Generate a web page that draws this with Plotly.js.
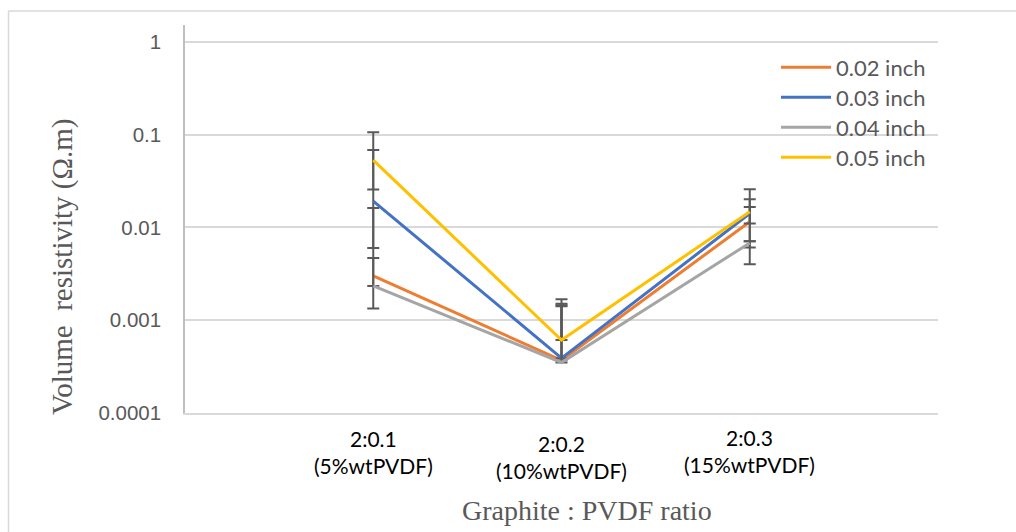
<!DOCTYPE html>
<html><head><meta charset="utf-8">
<script src="https://cdn.plot.ly/plotly-3.0.1.min.js"></script>
<style>html,body{margin:0;padding:0;background:#fff}#chart{width:1016px;height:532px}</style>
</head><body><div id="chart"></div>
<script>
// ---- data ----
const categories = ["2:0.1", "2:0.2", "2:0.3"];
const categorySub = ["(5%wtPVDF)", "(10%wtPVDF)", "(15%wtPVDF)"];
const seriesNames = ["0.02 inch", "0.03 inch", "0.04 inch", "0.05 inch"];
const r002 = [0.0030, 0.00037, 0.0115];
const r003 = [0.0192, 0.00039, 0.0141];
const r004 = [0.00234, 0.00035, 0.0068];
const r005 = [0.053, 0.00061, 0.0147];
// error bar ends (upper / lower), absolute values
const hi002 = [0.0162, 0.00141, 0.0166];
const lo002 = [0.00234, 0.00037, 0.00607];
const hi003 = [0.068, 0.0015, 0.0201];
const lo003 = [0.0060, 0.00039, 0.0071];
const hi004 = [0.00469, 0.00145, 0.0071];
const lo004 = [0.001336, 0.00035, 0.00401];
const hi005 = [0.1055, 0.00168, 0.0258];
const lo005 = [0.0256, 0.00061, 0.0110];
const yTickVals = [0.0001, 0.001, 0.01, 0.1, 1];
const yTickText = ["0.0001", "0.001", "0.01", "0.1", "1"];
const xTitle = "Graphite : PVDF ratio";
const yTitle = "Volume\u00A0 resistivity (\u03A9.m)";

// ---- layout geometry (pixels) ----
const W = 1016, H = 532;
const M = {l: 185, r: 78, t: 25, b: 119};
const PW = W - M.l - M.r, PH = H - M.t - M.b;
const px = x => (x - M.l) / PW;
const py = y => (H - M.b - y) / PH;

const colors = ["#ED7D31", "#4472C4", "#A5A5A5", "#FFC000"];
const values = [r002, r003, r004, r005];
const highs = [hi002, hi003, hi004, hi005];
const lows = [lo002, lo003, lo004, lo005];
const legendIds = ["legend", "legend2", "legend3", "legend4"];
const legendRowY = [67.5, 97.5, 127.5, 157.5];
const catLabelY = [452, 457, 451];

const xPos = categories.map((c, i) => i + 1);

const traces = values.map((v, s) => ({
  type: "scatter",
  mode: "lines",
  name: seriesNames[s],
  x: xPos,
  y: v,
  legend: legendIds[s],
  line: {color: colors[s], width: 3},
  error_y: {
    type: "data",
    symmetric: false,
    array: v.map((val, i) => highs[s][i] - val),
    arrayminus: v.map((val, i) => val - lows[s][i]),
    color: "#595959",
    thickness: 2,
    width: 6
  },
  hoverinfo: "x+y+name"
}));

const legendFont = {family: "Lato, 'Open Sans', sans-serif", size: 22, color: "#595959"};
const layout = {
  width: W, height: H,
  margin: M,
  paper_bgcolor: "#fff", plot_bgcolor: "#fff",
  showlegend: true,
  xaxis: {
    range: [0, 4], showgrid: false, zeroline: false,
    showline: true, linecolor: "#D9D9D9", linewidth: 1.5,
    showticklabels: false, ticks: "", fixedrange: true
  },
  yaxis: {
    type: "log", range: [-4, 0.18],
    tickvals: yTickVals, ticktext: yTickText,
    showgrid: true, gridcolor: "#D9D9D9", gridwidth: 1.5,
    showline: true, linecolor: "#BFBFBF", linewidth: 1.5,
    ticks: "", ticklabelstandoff: 18,
    tickfont: {family: "'Liberation Sans', Arial, sans-serif", size: 20.5, color: "#595959"},
    fixedrange: true
  },
  annotations: [],
  shapes: [
    {type: "line", xref: "paper", yref: "paper", x0: px(8.5), x1: px(8.5), y0: py(11), y1: py(H + 2),
     line: {color: "#D9D9D9", width: 1.5}},
    {type: "line", xref: "paper", yref: "paper", x0: px(8.5), x1: px(W + 2), y0: py(11), y1: py(11),
     line: {color: "#D9D9D9", width: 1.5}}
  ]
};

legendIds.forEach((id, i) => {
  layout[id] = {
    x: px(776), xanchor: "left",
    y: py(legendRowY[i]), yanchor: "middle",
    bgcolor: "rgba(0,0,0,0)", borderwidth: 0,
    itemwidth: 50,
    font: legendFont
  };
});

categories.forEach((c, i) => {
  layout.annotations.push({
    x: xPos[i], xref: "x", y: py(catLabelY[i]), yref: "paper",
    text: c + "<br>" + categorySub[i], showarrow: false,
    xanchor: "center", yanchor: "middle",
    font: {family: "Lato, 'Open Sans', sans-serif", size: 21, color: "#000"}
  });
});

layout.annotations.push({
  x: px(587), xref: "paper", y: py(510), yref: "paper",
  text: xTitle, showarrow: false, xanchor: "center", yanchor: "middle",
  font: {family: "'Liberation Serif', 'Times New Roman', serif", size: 28, color: "#595959"}
});
layout.annotations.push({
  x: px(62), xref: "paper", y: py(267), yref: "paper",
  text: yTitle, showarrow: false, textangle: -90, xanchor: "center", yanchor: "middle",
  font: {family: "'Liberation Serif', 'Times New Roman', serif", size: 29, color: "#595959"}
});

Plotly.newPlot("chart", traces, layout, {displayModeBar: false, staticPlot: false});
</script></body></html>
